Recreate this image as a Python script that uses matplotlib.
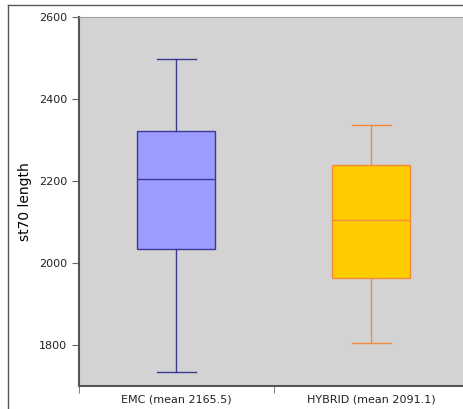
import matplotlib
matplotlib.use("Agg")
import matplotlib.pyplot as plt
from matplotlib.lines import Line2D

# box statistics
groups = ['EMC', 'HYBRID']
means = [2165.5, 2091.1]
whislo = [1733, 1806]
q1 = [2034, 1963]
medians = [2205, 2105]
q3 = [2323, 2239]
whishi = [2498, 2337]

fills = ['#9c9cff', '#ffcc00']
edges = ['#3a3a94', '#f5893a']

fig = plt.figure(figsize=(4.64, 4.09), dpi=100)
ax = fig.add_axes([79 / 464, 23 / 409, 390 / 464, 369 / 409])
ax.set_facecolor('#d3d3d3')

stats = []
for i, g in enumerate(groups):
    stats.append(dict(label=f'{g} (mean {means[i]})', whislo=whislo[i], q1=q1[i],
                      med=medians[i], q3=q3[i], whishi=whishi[i], fliers=[]))

positions = [0.5, 1.5]
for i, s in enumerate(stats):
    bp = ax.bxp([s], positions=[positions[i]], widths=0.4, patch_artist=True,
                showfliers=False, manage_ticks=False)
    for b in bp['boxes']:
        b.set_facecolor(fills[i])
        b.set_edgecolor(edges[i])
        b.set_linewidth(1.0)
    for key in ['whiskers', 'caps', 'medians']:
        for ln in bp[key]:
            ln.set_color(edges[i])
            ln.set_linewidth(1.0)

ax.set_xlim(0, 2)
ax.set_ylim(1700, 2600)
ax.set_yticks([1800, 2000, 2200, 2400, 2600])
ax.set_xticks(positions)
ax.set_xticklabels([s['label'] for s in stats], fontsize=8, color='#222222')
ax.tick_params(axis='x', length=0, pad=6)
ax.set_xticks([0, 1], minor=True)
ax.tick_params(axis='x', which='minor', length=5, color='#666666', direction='out')
ax.tick_params(axis='y', labelsize=8, labelcolor='#222222', length=5, color='#666666')
ax.set_ylabel('st70 length', fontsize=10, labelpad=5)

for side in ['left', 'bottom']:
    ax.spines[side].set_color('#555555')
    ax.spines[side].set_linewidth(1.5)
ax.spines['top'].set_color('#a0a0a0')
ax.spines['right'].set_visible(False)

# outer frame lines
fig.add_artist(Line2D([8 / 464, 8 / 464], [0, 1 - 5 / 409], color='#555555', lw=1.0))
fig.add_artist(Line2D([8 / 464, 1], [1 - 5 / 409, 1 - 5 / 409], color='#555555', lw=1.0))

fig.savefig('out.png', dpi=100)
